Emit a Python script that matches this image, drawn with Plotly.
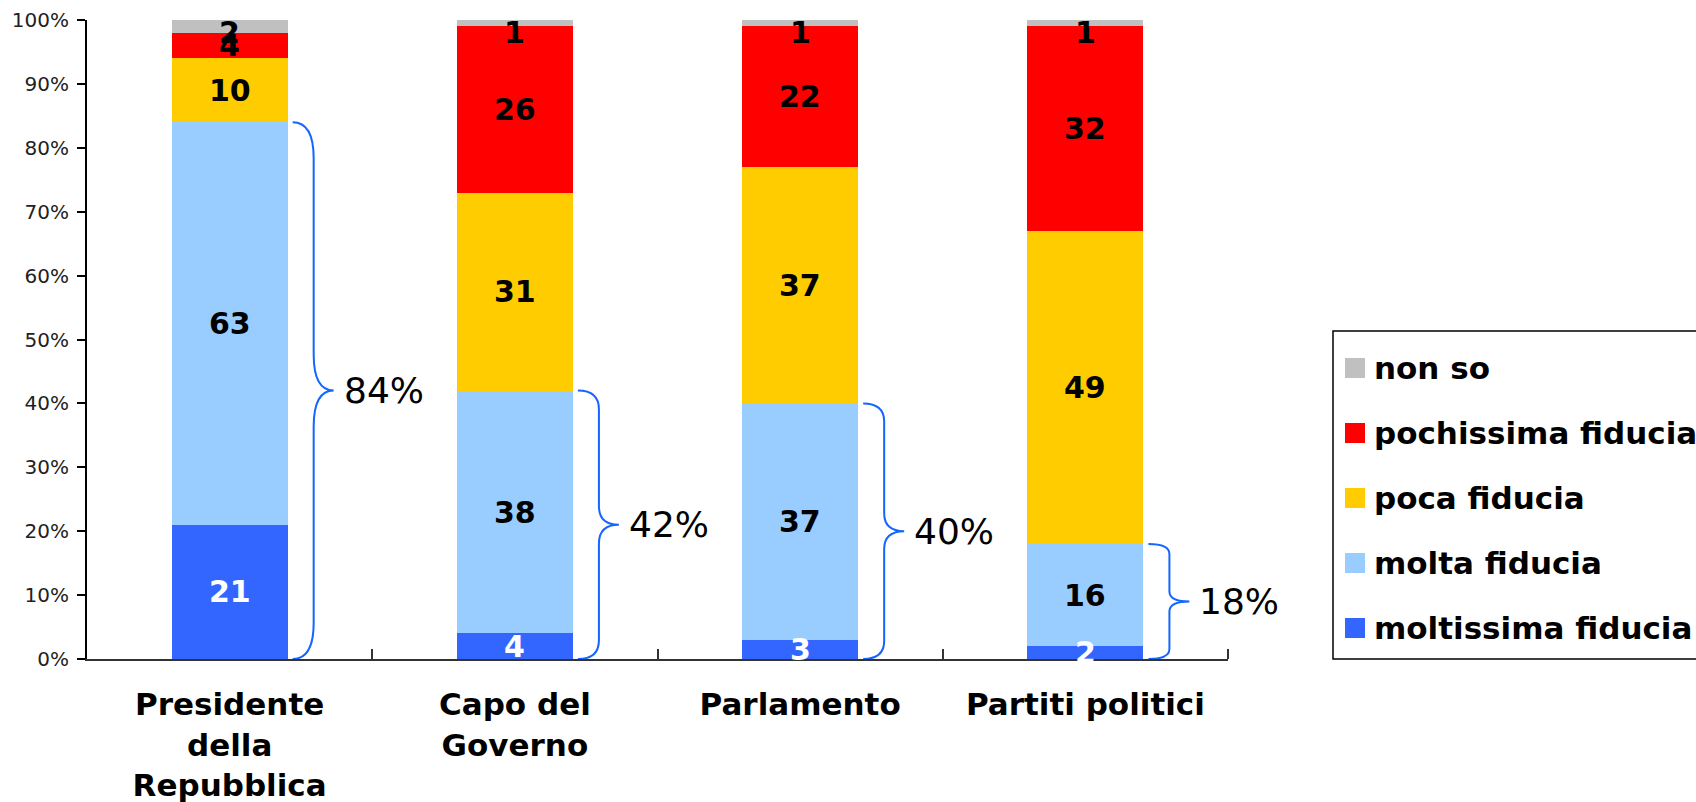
import plotly.graph_objects as go

# dati del grafico (valori in %)
categories = ["Presidente<br>della<br>Repubblica", "Capo del<br>Governo", "Parlamento", "Partiti politici"]
series_names = ["moltissima fiducia", "molta fiducia", "poca fiducia", "pochissima fiducia", "non so"]
moltissima = [21, 4, 3, 2]
molta = [63, 38, 37, 16]
poca = [10, 31, 37, 49]
pochissima = [4, 26, 22, 32]
non_so = [2, 1, 1, 1]
series_values = [moltissima, molta, poca, pochissima, non_so]
colors = ["#3366FF", "#99CCFF", "#FFCC00", "#FF0000", "#C0C0C0"]
label_colors = ["white", "black", "black", "black", "black"]
y_ticks = [0, 10, 20, 30, 40, 50, 60, 70, 80, 90, 100]
y_tick_labels = [f"{v}%" for v in y_ticks]

# geometria della pagina (pixel)
W, H = 1696, 802
L, R, T, B = 87, 1228, 20, 659
XPX = (R - L) / 4.0
YPX = (B - T) / 100.0
BAR_W = 0.407
BRACE_COLOR = "#1466FF"
FONT = "DejaVu Sans, Verdana, sans-serif"


def xp(px):
    return (px - L) / (R - L)


def yp(py):
    return (B - py) / (B - T)


def brace_path(i, top, bot):
    """parentesi graffa a destra della barra i, da bot a top"""
    edge = i + BAR_W / 2
    x0 = edge + 5 / XPX
    xv = edge + 26 / XPX
    xt = edge + 46 / XPX
    r = min(max(0.07 * (top - bot) * YPX, 10), 36) / YPX
    mid = (top + bot) / 2
    return (
        f"M{x0},{top} Q{xv},{top} {xv},{top - r} L{xv},{mid + r} "
        f"Q{xv},{mid} {xt},{mid} Q{xv},{mid} {xv},{mid - r} "
        f"L{xv},{bot + r} Q{xv},{bot} {x0},{bot}"
    )


x = list(range(len(categories)))
fig = go.Figure()

for name, vals, col in zip(series_names, series_values, colors):
    fig.add_trace(
        go.Bar(
            x=x,
            y=vals,
            name=name,
            marker=dict(color=col, line=dict(width=0)),
            width=BAR_W,
            showlegend=False,
            hoverinfo="name+y",
        )
    )

annotations = []
shapes = []

# etichette dei valori dentro le barre
base = [0] * len(categories)
for vals, lc in zip(series_values, label_colors):
    for i, v in enumerate(vals):
        mid = base[i] + v / 2
        mid = min(mid, 100 - 12 / YPX)
        annotations.append(
            dict(
                x=i, y=mid, xref="x", yref="y", text=str(v), showarrow=False,
                font=dict(family=FONT, size=30, color=lc, weight="bold"),
                xanchor="center", yanchor="middle",
            )
        )
        base[i] += v

# parentesi graffe con il totale "molta + moltissima"
for i in x:
    tot = moltissima[i] + molta[i]
    shapes.append(
        dict(
            type="path", xref="x", yref="y", path=brace_path(i, tot, 0),
            line=dict(color=BRACE_COLOR, width=2), layer="above",
        )
    )
    annotations.append(
        dict(
            x=i + BAR_W / 2 + 54 / XPX, y=tot / 2, xref="x", yref="y",
            text=f"{tot}%", showarrow=False,
            font=dict(family=FONT, size=36, color="black"),
            xanchor="left", yanchor="middle",
        )
    )

# legenda disegnata a mano (ordine inverso rispetto allo stack)
shapes.append(
    dict(
        type="rect", xref="paper", yref="paper",
        x0=xp(1333), x1=xp(1730), y0=yp(659), y1=yp(331),
        line=dict(color="black", width=1.5), fillcolor="white", layer="below",
    )
)
for k, (name, col) in enumerate(zip(reversed(series_names), reversed(colors))):
    cy = 368 + k * 65
    shapes.append(
        dict(
            type="rect", xref="paper", yref="paper",
            x0=xp(1345), x1=xp(1365), y0=yp(cy + 10), y1=yp(cy - 10),
            fillcolor=col, line=dict(width=0),
        )
    )
    annotations.append(
        dict(
            x=xp(1372), y=yp(cy), xref="paper", yref="paper", text=name,
            showarrow=False, xanchor="left", yanchor="middle",
            font=dict(family=FONT, size=31, color="black", weight="bold"),
        )
    )

fig.update_layout(
    barmode="stack",
    width=W,
    height=H,
    margin=dict(l=L, r=W - R, t=T, b=H - B, autoexpand=False),
    paper_bgcolor="white",
    plot_bgcolor="white",
    showlegend=False,
    annotations=annotations,
    shapes=shapes,
    xaxis=dict(
        range=[-0.5, 3.5],
        tickvals=x,
        ticktext=categories,
        ticks="",
        tickfont=dict(family=FONT, size=31, color="black", weight="bold"),
        ticklabelstandoff=17,
        showline=True,
        linecolor="#333333",
        linewidth=2,
        showgrid=False,
        zeroline=False,
        minor=dict(
            tickvals=[0.5, 1.5, 2.5, 3.5], ticks="inside", ticklen=10,
            tickcolor="#333333", tickwidth=1.5, showgrid=False,
        ),
    ),
    yaxis=dict(
        range=[0, 100],
        tickvals=y_ticks,
        ticktext=y_tick_labels,
        ticks="outside",
        ticklen=8,
        tickwidth=1.5,
        tickcolor="black",
        tickfont=dict(family=FONT, size=20, color="#222222"),
        ticklabelstandoff=4,
        showline=True,
        linecolor="black",
        linewidth=2,
        showgrid=False,
        zeroline=False,
    ),
)

# il body ha 8px di margine di default: lo azzero
fig.write_html(
    "out.html",
    config={"displayModeBar": False},
    post_script="document.body.style.margin='0';",
)
